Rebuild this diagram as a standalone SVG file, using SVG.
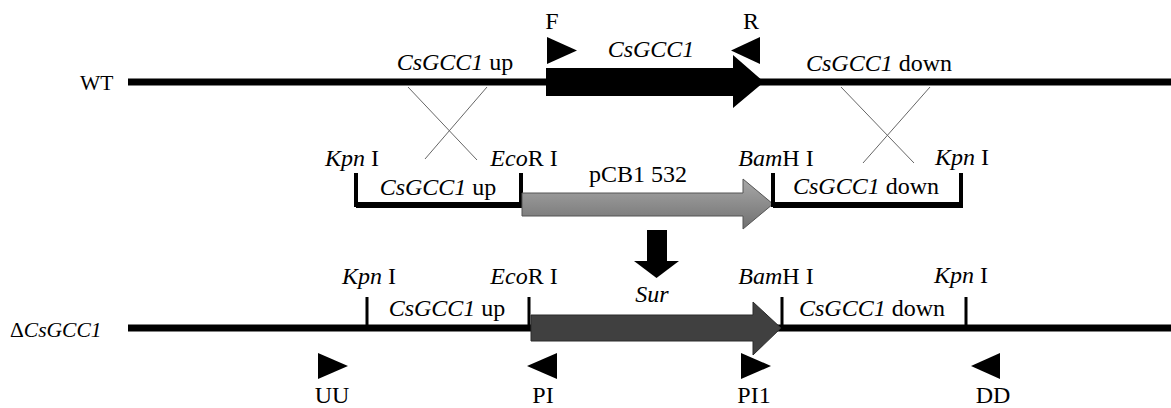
<svg xmlns="http://www.w3.org/2000/svg" width="1171" height="408" viewBox="0 0 1171 408">
<style>
text{font-family:"Liberation Serif","Times New Roman",serif;font-size:24px;fill:#000}
.m{text-anchor:middle}
.i{font-style:italic}
.s{font-size:21.5px}
.x{stroke:#666;stroke-width:1;fill:none}
.dna{fill:#000}
.pr{fill:#000}
</style>
<defs>
<linearGradient id="g" x1="0" y1="0" x2="0" y2="1">
<stop offset="0" stop-color="#a8a8a8"/>
<stop offset="1" stop-color="#707070"/>
</linearGradient>
</defs>

<g id="wt">
<text class="s" x="80" y="90">WT</text>
<rect class="dna" x="128" y="78.5" width="1043" height="7"/>
<polygon id="gene" points="546,68 733,68 733,55 764,82 733,108 733,96 546,96" fill="#000"/>
<text class="m" x="552" y="29">F</text>
<polygon class="pr" points="547,37 577,50.5 547,64"/>
<text class="m" x="751" y="29">R</text>
<polygon class="pr" points="760,37 731,50.5 760,64"/>
<text class="m i" x="651" y="57">CsGCC1</text>
<text class="m" x="455" y="70"><tspan class="i">CsGCC1</tspan> up</text>
<text class="m" x="879" y="71"><tspan class="i">CsGCC1</tspan> down</text>
</g>

<g id="connectors">
<line class="x" x1="408" y1="87" x2="477" y2="160"/>
<line class="x" x1="487" y1="87" x2="425" y2="159"/>
<line class="x" x1="841" y1="87" x2="914" y2="163"/>
<line class="x" x1="930" y1="87" x2="863" y2="163"/>
<g id="down-arrow">
<rect x="647" y="230" width="20" height="32" fill="#000"/>
<polygon points="634,261 679,261 656.5,278" fill="#000"/>
</g>
</g>

<g id="construct">
<text class="m" x="352" y="166"><tspan class="i">Kpn</tspan> I</text>
<text class="m" x="524" y="166"><tspan class="i">Eco</tspan>R I</text>
<text class="m" x="776" y="166"><tspan class="i">Bam</tspan>H I</text>
<text class="m" x="962" y="165"><tspan class="i">Kpn</tspan> I</text>
<path d="M356,173 V205 H521 V173" stroke="#000" stroke-width="4" fill="none"/>
<rect x="356" y="202" width="166" height="6" fill="#000"/>
<polygon points="522,193 743,193 743,179 773,204 743,229 743,216 522,216" fill="url(#g)" stroke="#555" stroke-width="1"/>
<path d="M773,173 V205 H961 V173" stroke="#000" stroke-width="4" fill="none"/>
<rect x="773" y="202" width="190" height="6" fill="#000"/>
<text class="m" x="438" y="195"><tspan class="i">CsGCC1</tspan> up</text>
<text class="m" x="638" y="182">pCB1 532</text>
<text class="m" x="866" y="194"><tspan class="i">CsGCC1</tspan> down</text>
</g>

<g id="mutant">
<text class="s" x="10" y="337">Δ<tspan class="i">CsGCC1</tspan></text>
<rect class="dna" x="128" y="324.5" width="1043" height="7"/>
<rect x="365.5" y="297" width="3" height="30" fill="#000"/>
<rect x="527.5" y="297" width="3" height="30" fill="#000"/>
<rect x="780.5" y="297" width="3" height="30" fill="#000"/>
<rect x="964.5" y="297" width="3" height="30" fill="#000"/>
<polygon points="531,315 753,315 753,302 781,328 753,355 753,341 531,341" fill="#404040" stroke="#2a2a2a" stroke-width="1"/>
<text class="m" x="369" y="284"><tspan class="i">Kpn</tspan> I</text>
<text class="m" x="524" y="284"><tspan class="i">Eco</tspan>R I</text>
<text class="m" x="776" y="284"><tspan class="i">Bam</tspan>H I</text>
<text class="m" x="961" y="283"><tspan class="i">Kpn</tspan> I</text>
<text class="m i" x="652" y="302">Sur</text>
<text class="m" x="447" y="316"><tspan class="i">CsGCC1</tspan> up</text>
<text class="m" x="872" y="316"><tspan class="i">CsGCC1</tspan> down</text>
</g>

<g id="primers">
<polygon class="pr" points="318,353 348,366 318,379"/>
<text class="m" x="332" y="403">UU</text>
<polygon class="pr" points="557,353 527,366 557,379"/>
<text class="m" x="543" y="403">PI</text>
<polygon class="pr" points="741,353 771,366 741,379"/>
<text class="m" x="754" y="403">PI1</text>
<polygon class="pr" points="1000,353 971,366 1000,379"/>
<text class="m" x="993" y="403">DD</text>
</g>
</svg>
